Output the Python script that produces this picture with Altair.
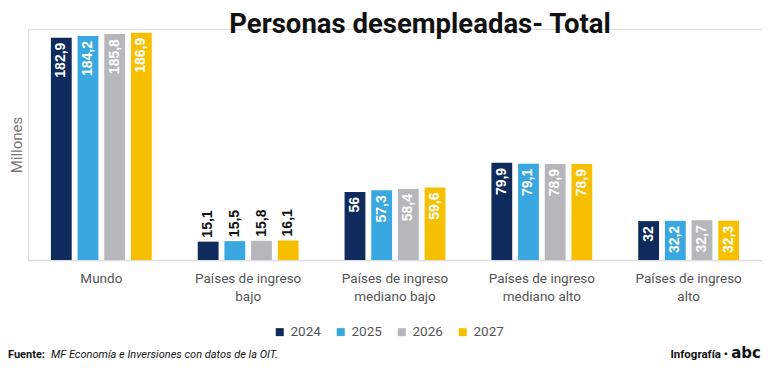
import altair as alt
import pandas as pd

TITLE = "Personas desempleadas- Total"
Y_TITLE = "Millones"
SOURCE_BOLD = "Fuente:"
SOURCE_TEXT = "MF Economía e Inversiones con datos de la OIT."
CREDIT = "Infografía •"
LOGO = "abc"

categories = [
    "Mundo",
    "Países de ingreso|bajo",
    "Países de ingreso|mediano bajo",
    "Países de ingreso|mediano alto",
    "Países de ingreso|alto",
]
years = ["2024", "2025", "2026", "2027"]
colors = ["#0f2a5c", "#3aa8e0", "#b6b7bb", "#f6c000"]

v2024 = [182.9, 15.1, 56, 79.9, 32]
v2025 = [184.2, 15.5, 57.3, 79.1, 32.2]
v2026 = [185.8, 15.8, 58.4, 78.9, 32.7]
v2027 = [186.9, 16.1, 59.6, 78.9, 32.3]

rows = []
for y, vals in zip(years, [v2024, v2025, v2026, v2027]):
    for c, v in zip(categories, vals):
        rows.append({"cat": c, "year": y, "value": v,
                     "label": f"{v:g}".replace(".", ",")})
df = pd.DataFrame(rows)

SANS = "Roboto, sans-serif"

x_enc = alt.X("cat:N", sort=categories,
              scale=alt.Scale(paddingInner=0.313, paddingOuter=0.156),
              axis=alt.Axis(title=None, labelAngle=0, ticks=False,
                            domainColor="#dddddd", domainWidth=1.5,
                            labelExpr="split(datum.label, '|')",
                            labelFont=SANS, labelFontSize=13.5,
                            labelColor="#555555", labelPadding=11,
                            labelLineHeight=18))
xo_enc = alt.XOffset("year:N", sort=years,
                     scale=alt.Scale(paddingInner=0.22))
y_enc = alt.Y("value:Q", scale=alt.Scale(domain=[0, 190], nice=False),
              axis=alt.Axis(title=Y_TITLE, labels=False, ticks=False,
                            domain=False, grid=False,
                            titleFont=SANS, titleFontSize=15,
                            titleFontWeight="normal", titleColor="#777777",
                            titlePadding=4))

base = alt.Chart(df)

bars = base.mark_bar().encode(
    x=x_enc, xOffset=xo_enc, y=y_enc,
    color=alt.Color("year:N", sort=years,
                    scale=alt.Scale(domain=years, range=colors),
                    legend=alt.Legend(title=None, orient="none",
                                      legendX=245, legendY=296,
                                      direction="horizontal",
                                      symbolType="square", symbolSize=64,
                                      symbolStrokeWidth=0,
                                      labelFont=SANS, labelFontSize=13.5,
                                      labelColor="#555555",
                                      columnPadding=13, padding=0)),
)

inside = base.transform_filter("datum.value >= 20").mark_text(
    angle=270, align="right", baseline="middle", dx=-5,
    color="white", font="Liberation Sans", fontWeight="bold", fontSize=14,
).encode(x=alt.X("cat:N", sort=categories), xOffset=alt.XOffset("year:N", sort=years),
         y="value:Q", text="label:N")

outside = base.transform_filter("datum.value < 20").mark_text(
    angle=270, align="left", baseline="middle", dx=4,
    color="#111111", font="Liberation Sans", fontWeight="bold", fontSize=14,
).encode(x=alt.X("cat:N", sort=categories), xOffset=alt.XOffset("year:N", sort=years),
         y="value:Q", text="label:N")

tdf = pd.DataFrame({"t": [TITLE]})
title = alt.Chart(tdf).mark_text(
    font=SANS, fontWeight="bold", fontSize=27.5, color="#111111",
    align="center", baseline="alphabetic",
).encode(text="t:N", x=alt.value(392), y=alt.value(4))

f1 = alt.Chart(pd.DataFrame({"t": [SOURCE_BOLD]})).mark_text(
    font=SANS, fontWeight="bold", fontSize=11, color="#111111",
    align="left", baseline="alphabetic",
).encode(text="t:N", x=alt.value(-20), y=alt.value(329))

f2 = alt.Chart(pd.DataFrame({"t": [SOURCE_TEXT]})).mark_text(
    font=SANS, fontStyle="italic", fontSize=11, color="#111111",
    align="left", baseline="alphabetic",
).encode(text="t:N", x=alt.value(23), y=alt.value(329))

f3 = alt.Chart(pd.DataFrame({"t": [CREDIT]})).mark_text(
    font=SANS, fontWeight="bold", fontSize=11.5, color="#111111",
    align="right", baseline="alphabetic",
).encode(text="t:N", x=alt.value(700), y=alt.value(329))

f4 = alt.Chart(pd.DataFrame({"t": [LOGO]})).mark_text(
    font="DejaVu Sans", fontWeight="bold", fontSize=15, color="#111111",
    align="right", baseline="alphabetic",
).encode(text="t:N", x=alt.value(733), y=alt.value(329))

chart = alt.layer(bars, inside, outside, title, f1, f2, f3, f4).properties(
    width=734, height=231,
    padding={"left": 20, "top": 21, "right": 0, "bottom": 102},
    autosize=alt.AutoSizeParams(type="none"),
).configure_view(stroke=None).configure(background="white")

chart.save("out.html", embed_options={"renderer": "svg", "actions": False})
